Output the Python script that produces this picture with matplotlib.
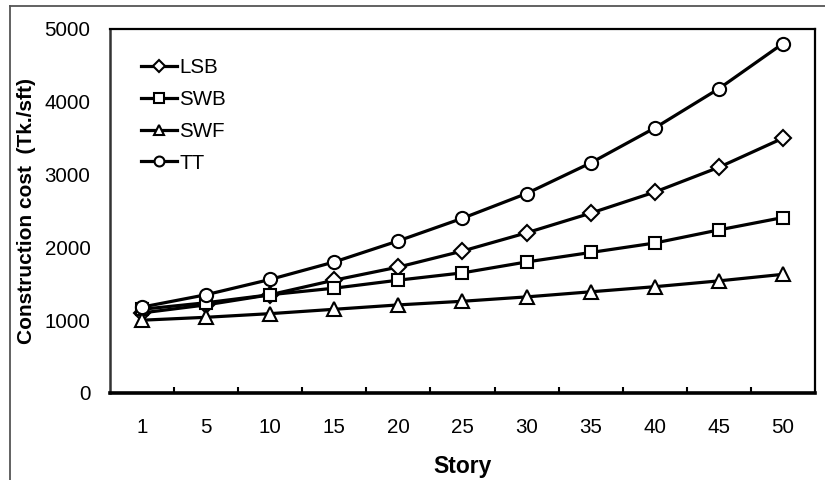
import matplotlib
matplotlib.use("Agg")
import matplotlib.pyplot as plt
from matplotlib.lines import Line2D

plt.rcParams['font.family'] = ['Liberation Sans', 'DejaVu Sans']

stories = ['1', '5', '10', '15', '20', '25', '30', '35', '40', '45', '50']
lsb = [1100, 1210, 1350, 1550, 1730, 1950, 2200, 2470, 2760, 3100, 3500]
swb = [1150, 1240, 1350, 1440, 1550, 1650, 1800, 1930, 2060, 2240, 2410]
swf = [1000, 1040, 1090, 1150, 1210, 1260, 1320, 1390, 1460, 1540, 1630]
tt = [1180, 1350, 1560, 1800, 2090, 2400, 2740, 3160, 3640, 4180, 4800]

series = [('LSB', lsb, 'D', 8.0), ('SWB', swb, 's', 9.0),
          ('SWF', swf, '^', 10.5), ('TT', tt, 'o', 9.5)]

fig = plt.figure(figsize=(8.25, 4.8), dpi=100)
ax = fig.add_axes([0.1333, 0.18125, 0.8546, 0.7584])

x = list(range(len(stories)))
for name, vals, mk, ms in series:
    ax.plot(x, vals, color='black', lw=2.3, marker=mk, ms=ms,
            mfc='white', mec='black', mew=1.5, label=name)

ax.set_xlim(-0.5, len(stories) - 0.5)
ax.set_ylim(0, 5000)
ax.set_yticks([0, 1000, 2000, 3000, 4000, 5000])
ax.set_xticks(x)
ax.set_xticklabels(stories)
ax.set_xticks([i + 0.5 for i in range(len(stories) - 1)], minor=True)
ax.tick_params(axis='x', which='major', length=0, pad=18, labelsize=14.8)
ax.tick_params(axis='x', which='minor', length=4, width=1.5, direction='in')
ax.tick_params(axis='y', length=0, pad=14, labelsize=14.8)

for side in ['top', 'right']:
    ax.spines[side].set_linewidth(1.6)
ax.spines['bottom'].set_linewidth(2.6)
ax.spines['left'].set_linewidth(1.8)
ax.spines['left'].set_color('#333333')

ax.set_xlabel('Story', fontsize=16.5, fontweight='bold', labelpad=13)
ax.set_ylabel('Construction cost  (Tk./sft)', fontsize=15,
              fontweight='bold', labelpad=6)

leg = ax.legend(loc='upper left', bbox_to_anchor=(0.033, 0.942), frameon=False,
                fontsize=14.8, handlelength=1.75, handletextpad=0.1,
                labelspacing=0.62, markerscale=0.75, borderaxespad=0)

# frame lines along the figure's left and top edges
W, H = 825, 480
fig.add_artist(Line2D([9.5 / W, 9.5 / W], [0, 1 - 6 / H],
                      transform=fig.transFigure, color='#555555', lw=1.3))
fig.add_artist(Line2D([9.5 / W, 1], [1 - 6 / H, 1 - 6 / H],
                      transform=fig.transFigure, color='#555555', lw=1.3))

fig.savefig('out.png', dpi=100)
